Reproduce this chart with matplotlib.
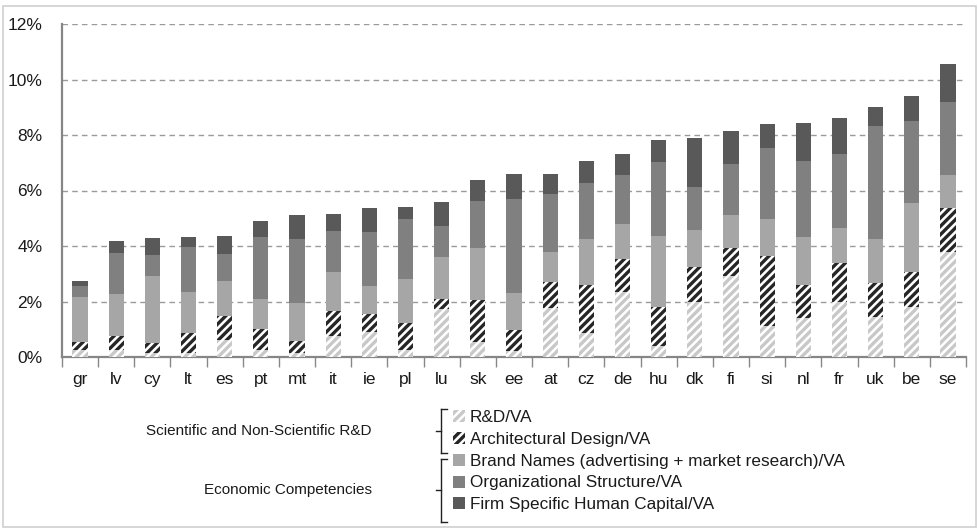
import numpy as np
import matplotlib
matplotlib.use("Agg")
import matplotlib.pyplot as plt
from matplotlib.patches import Patch, Rectangle
from matplotlib.lines import Line2D

plt.rcParams['font.family'] = ['Liberation Sans', 'DejaVu Sans']
plt.rcParams['hatch.linewidth'] = 2.4

# countries and shares of value added (%)
countries = ["gr", "lv", "cy", "lt", "es", "pt", "mt", "it", "ie", "pl", "lu", "sk", "ee",
             "at", "cz", "de", "hu", "dk", "fi", "si", "nl", "fr", "uk", "be", "se"]
rd = [0.24, 0.26, 0.14, 0.14, 0.62, 0.24, 0.14, 0.75, 0.91, 0.25, 1.74, 0.55, 0.20,
      1.75, 0.87, 2.33, 0.40, 2.00, 2.92, 1.13, 1.39, 2.00, 1.44, 1.81, 3.80]
arch = [0.31, 0.51, 0.36, 0.72, 0.87, 0.76, 0.44, 0.92, 0.63, 0.96, 0.36, 1.50, 0.77,
        0.95, 1.74, 1.19, 1.40, 1.25, 1.02, 2.51, 1.22, 1.39, 1.23, 1.25, 1.57]
brand = [1.60, 1.50, 2.42, 1.48, 1.25, 1.09, 1.38, 1.40, 1.03, 1.61, 1.50, 1.89, 1.34,
         1.08, 1.64, 1.26, 2.56, 1.33, 1.18, 1.33, 1.71, 1.26, 1.58, 2.49, 1.19]
org = [0.41, 1.47, 0.76, 1.61, 0.96, 2.23, 2.29, 1.47, 1.92, 2.15, 1.12, 1.68, 3.37,
       2.09, 2.02, 1.78, 2.66, 1.55, 1.85, 2.56, 2.73, 2.65, 4.06, 2.95, 2.63]
fshc = [0.19, 0.45, 0.60, 0.36, 0.66, 0.59, 0.87, 0.62, 0.88, 0.45, 0.87, 0.76, 0.91,
        0.72, 0.78, 0.77, 0.81, 1.75, 1.16, 0.86, 1.38, 1.30, 0.70, 0.91, 1.37]

labels = ["R&D/VA", "Architectural Design/VA",
          "Brand Names (advertising + market research)/VA",
          "Organizational Structure/VA", "Firm Specific Human Capital/VA"]
groups = ["Scientific and Non-Scientific R&D", "Economic Competencies"]

W, H = 979, 530
fig = plt.figure(figsize=(W / 100, H / 100), dpi=100)
ax = fig.add_axes([62 / W, 1 - 357 / H, (966 - 62) / W, (357 - 24) / H])

x = np.arange(len(countries))
series = [np.array(s) / 100 for s in (rd, arch, brand, org, fshc)]
styles = [
    dict(color="white", edgecolor="#c8c8c8", hatch="////"),
    dict(color="white", edgecolor="#262626", hatch="////"),
    dict(color="#a6a6a6", edgecolor="#a6a6a6"),
    dict(color="#808080", edgecolor="#808080"),
    dict(color="#595959", edgecolor="#595959"),
]
handles = []
bottom = np.zeros(len(x))
for vals, st, lab in zip(series, styles, labels):
    ax.bar(x, vals, 0.42, bottom=bottom, linewidth=0, zorder=3, **st)
    bottom += vals
    handles.append(Patch(facecolor=st["color"], edgecolor=st["edgecolor"],
                         hatch=st.get("hatch"), linewidth=0, label=lab))

ax.set_xlim(-0.5, len(x) - 0.5)
ax.set_ylim(0, 0.12)
ax.set_yticks(np.arange(0, 0.121, 0.02))
ax.set_yticklabels([f"{v}%" for v in range(0, 13, 2)])
ax.set_xticks(x)
ax.set_xticklabels(countries)
ax.set_xticks(np.arange(-0.5, len(x), 1), minor=True)
ax.tick_params(axis="x", which="major", length=0, pad=11, labelsize=12.5)
ax.tick_params(axis="x", which="minor", length=7, width=1, color="#888888", direction="out")
ax.tick_params(axis="y", length=0, pad=14, labelsize=12.5)
for t in ax.get_xticklabels() + ax.get_yticklabels():
    t.set_color("#1a1a1a")

for v in np.arange(0.02, 0.121, 0.02):
    ax.axhline(v, color="#9a9a9a", lw=1, ls=(0, (4, 3)), zorder=1)
for s in ["top", "right"]:
    ax.spines[s].set_visible(False)
for s in ["left", "bottom"]:
    ax.spines[s].set_color("#868686")
    ax.spines[s].set_linewidth(1.6)

# legend on the right side of the brackets
fig.legend(handles=handles, loc="upper left", bbox_to_anchor=(453 / W, 1 - 410 / H),
           frameon=False, fontsize=12.3, handlelength=0.7, handleheight=0.7,
           handletextpad=0.3, labelspacing=0.4, borderpad=0, borderaxespad=0,
           labelcolor="#1a1a1a")

# group labels and brackets
fig.text(372 / W, 1 - 431 / H, groups[0], ha="right", va="center", fontsize=11, color="#1a1a1a")
fig.text(372 / W, 1 - 490 / H, groups[1], ha="right", va="center", fontsize=11, color="#1a1a1a")


def bracket(y0, y1, ym, xb=441):
    pts = [((xb + 6, y0), (xb, y0)), ((xb, y0), (xb, y1)), ((xb, y1), (xb + 6, y1)),
           ((xb, ym), (xb - 5, ym))]
    for (a, b) in pts:
        fig.add_artist(Line2D([a[0] / W, b[0] / W], [1 - a[1] / H, 1 - b[1] / H],
                              color="#222222", lw=1))


bracket(409, 453, 431)
bracket(459, 522, 490)

fig.add_artist(Rectangle((3 / W, 3 / H), (W - 6) / W, (H - 9) / H, fill=False,
                         edgecolor="#d0d0d0", lw=1.2))

fig.savefig("out.png", dpi=100)
